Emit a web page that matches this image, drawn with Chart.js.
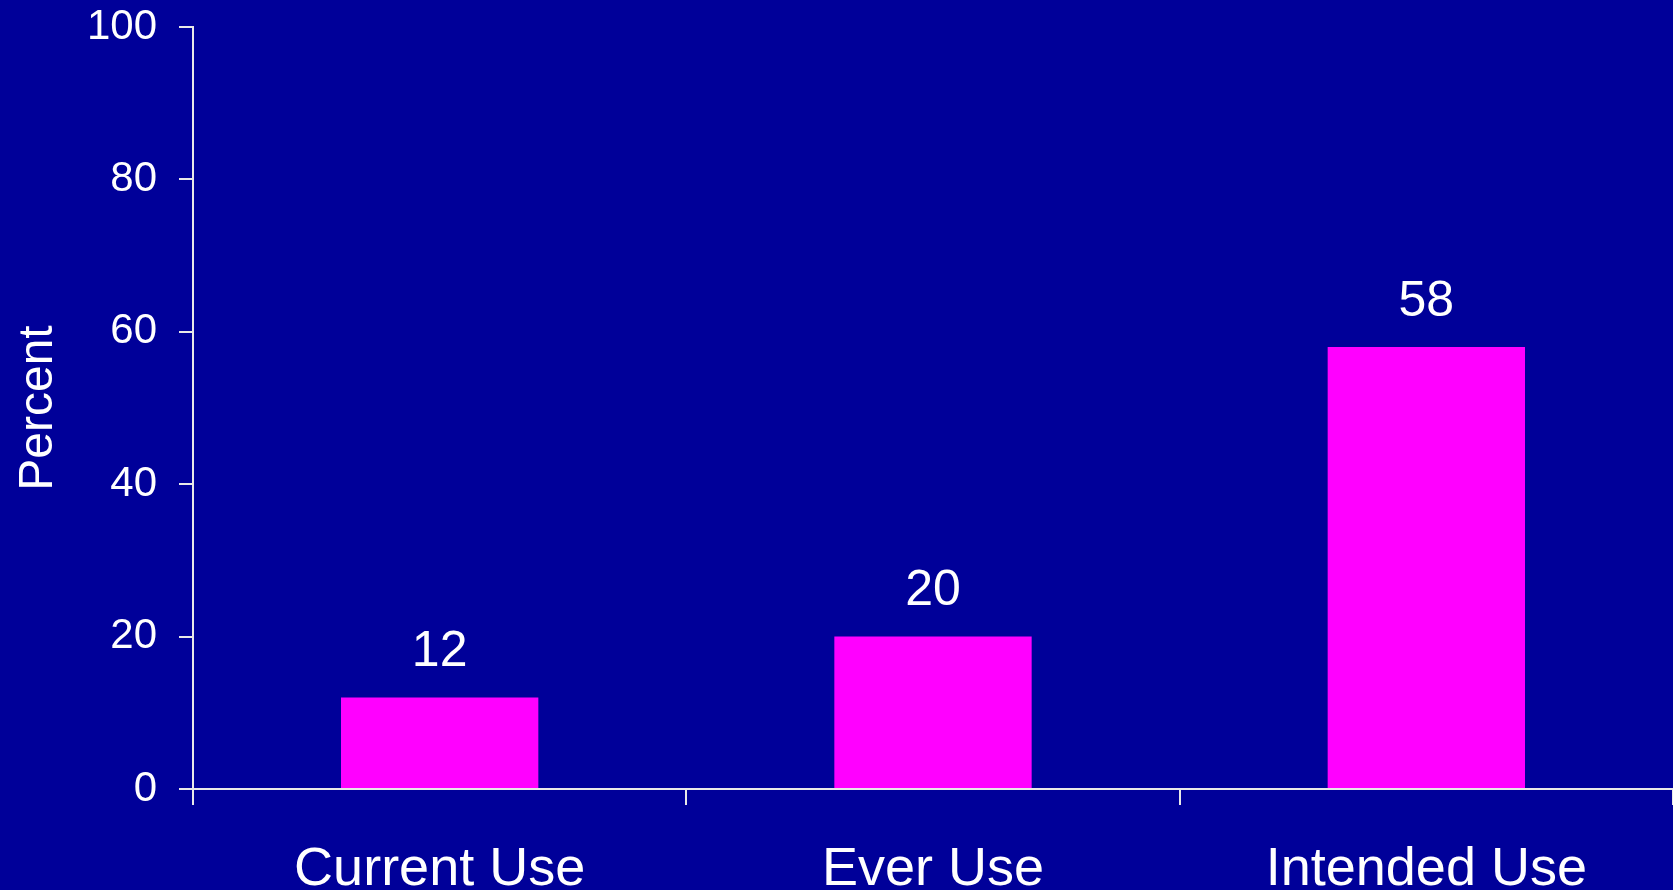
<!DOCTYPE html>
<html>
<head>
<meta charset="utf-8">
<script src="https://cdn.jsdelivr.net/npm/chart.js@4"></script>
<style>
  html, body { margin: 0; padding: 0; background: #000099; }
  #wrap { width: 1673px; height: 890px; }
</style>
</head>
<body>
<div id="wrap"><canvas id="chart"></canvas></div>
<script>
// chart data
const categories = ['Current Use', 'Ever Use', 'Intended Use'];
const percentValues = [12, 20, 58];
const yTicks = [0, 20, 40, 60, 80, 100];

const FONT = 'Liberation Sans, Arial, sans-serif';

// draws the value above each bar
const barLabels = {
    id: 'barLabels',
    afterDatasetsDraw(chart) {
        const c = chart.ctx;
        const meta = chart.getDatasetMeta(0);
        c.save();
        c.fillStyle = '#ffffff';
        c.font = '50px ' + FONT;
        c.textAlign = 'center';
        c.textBaseline = 'middle';
        meta.data.forEach((bar, i) => {
            c.fillText(String(percentValues[i]), bar.x, bar.y - 45);
        });
        c.restore();
    }
};

new Chart(document.getElementById('chart').getContext('2d'), {
    type: 'bar',
    data: {
        labels: categories,
        datasets: [{
            data: percentValues,
            backgroundColor: '#ff00ff',
            borderWidth: 0,
            barPercentage: 0.4,
            categoryPercentage: 1.0
        }]
    },
    options: {
        responsive: true,
        maintainAspectRatio: false,
        animation: false,
        layout: { padding: { top: 27, right: 0, left: 0, bottom: 0 } },
        plugins: {
            legend: { display: false },
            tooltip: { enabled: false }
        },
        scales: {
            x: {
                afterFit: (scale) => { scale.height = 101; },
                grid: {
                    offset: true,
                    drawOnChartArea: false,
                    color: '#e8e8e8',
                    lineWidth: 2,
                    tickLength: 16
                },
                border: { color: '#e8e8e8', width: 2 },
                ticks: {
                    color: '#ffffff',
                    padding: 33,
                    maxRotation: 0,
                    font: { family: FONT, size: 54 }
                }
            },
            y: {
                min: 0,
                max: 100,
                afterFit: (scale) => {
                    scale.width = 193;
                    scale.paddingTop = 0;
                },
                afterBuildTicks: (scale) => {
                    scale.ticks = yTicks.map(v => ({ value: v }));
                },
                grid: {
                    drawOnChartArea: false,
                    color: '#e8e8e8',
                    lineWidth: 2,
                    tickLength: 14
                },
                border: { color: '#e8e8e8', width: 2 },
                ticks: {
                    color: '#ffffff',
                    padding: 22,
                    font: { family: FONT, size: 42 }
                },
                title: {
                    display: true,
                    text: 'Percent',
                    color: '#ffffff',
                    padding: { top: 10, bottom: 0 },
                    font: { family: FONT, size: 48 }
                }
            }
        }
    },
    plugins: [barLabels]
});
</script>
</body>
</html>
